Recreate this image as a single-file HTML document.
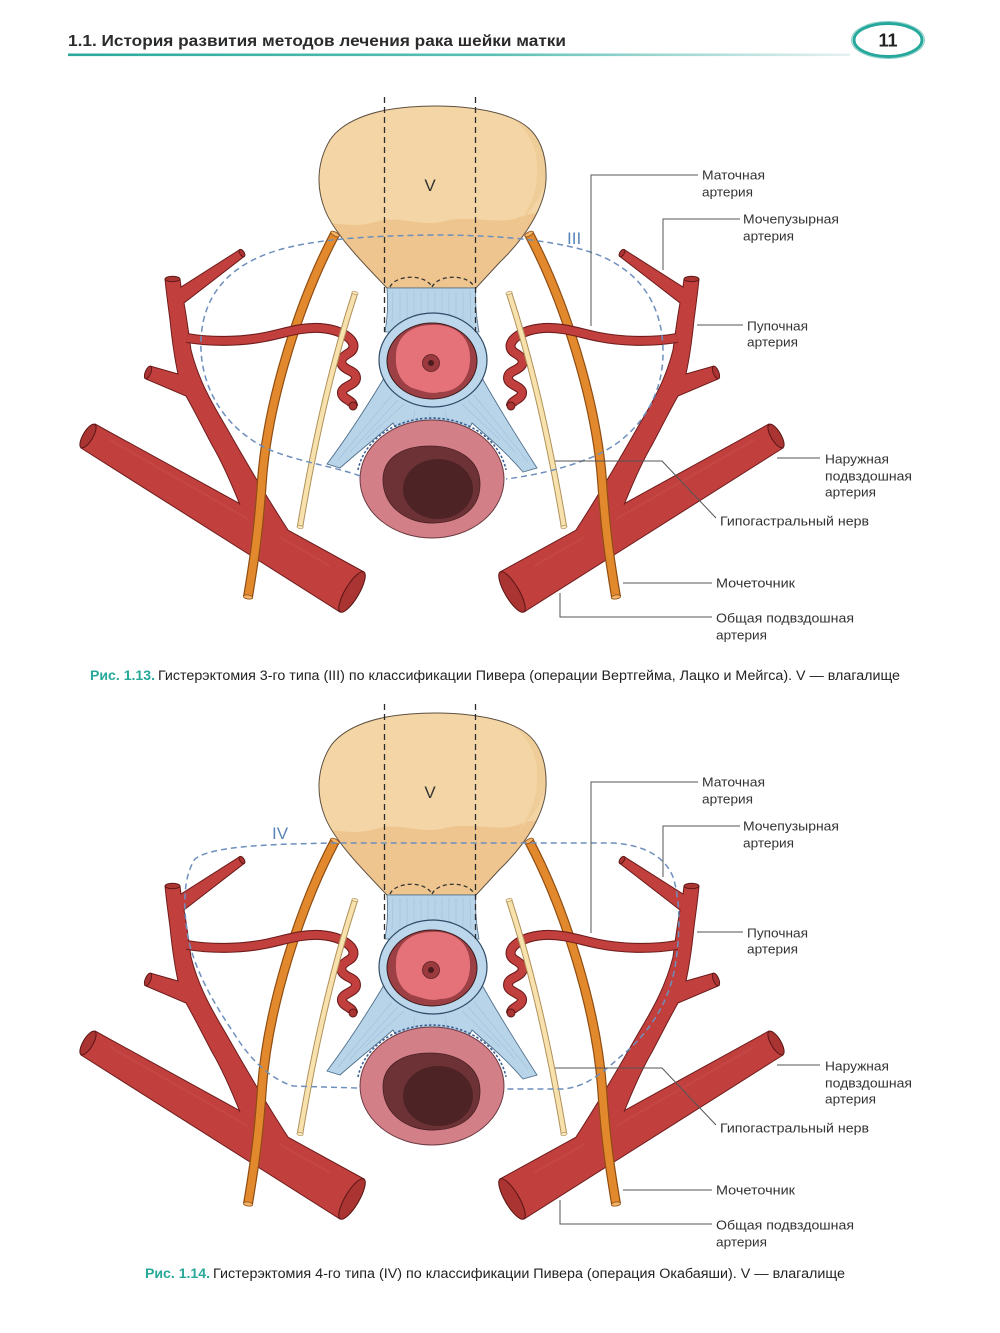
<!DOCTYPE html>
<html><head><meta charset="utf-8">
<style>
html,body{margin:0;padding:0;background:#fff}
svg{display:block}
text{font-family:"Liberation Sans","DejaVu Sans",sans-serif}
</style></head>
<body>
<svg width="1000" height="1333" viewBox="0 0 1000 1333" xmlns="http://www.w3.org/2000/svg">
<defs>
  <linearGradient id="hl" x1="68" y1="0" x2="850" y2="0" gradientUnits="userSpaceOnUse">
    <stop offset="0" stop-color="#2aa99c"/>
    <stop offset="0.55" stop-color="#5cc0b5"/>
    <stop offset="1" stop-color="#e6f1f1"/>
  </linearGradient>
  <clipPath id="tc">
    <path d="M387,288 C365,265 335,235 325,210 C315,185 318,160 330,140 C342,122 370,110 410,107 C450,104 495,108 520,122 C540,133 547,155 546,180 C545,205 528,235 500,262 L476,288 Z"/>
  </clipPath>

  <g id="ctr">
    <path d="M387,288 C365,265 335,235 325,210 C315,185 318,160 330,140 C342,122 370,110 410,107 C450,104 495,108 520,122 C540,133 547,155 546,180 C545,205 528,235 500,262 L476,288 Z" fill="#f4d6a6"/>
    <g clip-path="url(#tc)">
      <path d="M300,226 C330,218 350,230 375,222 C400,214 420,228 445,221 C470,214 500,226 520,217 C535,211 548,214 560,211 L560,300 L300,300 Z" fill="#eec58e"/>
      <path d="M512,118 C535,135 540,160 536,185 C532,205 522,220 515,228 C530,212 545,195 547,172 C548,150 535,128 512,118 Z" fill="#efcd99"/>
    </g>
    <path d="M387,288 C365,265 335,235 325,210 C315,185 318,160 330,140 C342,122 370,110 410,107 C450,104 495,108 520,122 C540,133 547,155 546,180 C545,205 528,235 500,262 L476,288 Z" fill="none" stroke="#5e5040" stroke-width="1"/>

    <path d="M387,288 L476,288 C475,300 476,315 479,332 L385,332 C388,315 388,300 387,288 Z" fill="#b8d4e9" stroke="#4f6f8c" stroke-width="0.8"/>
    <g stroke="#9fc0db" stroke-width="0.6">
      <line x1="393" y1="291" x2="392" y2="322"/><line x1="400" y1="291" x2="400" y2="320"/>
      <line x1="407" y1="291" x2="407" y2="318"/><line x1="414" y1="291" x2="414" y2="316"/>
      <line x1="421" y1="291" x2="421" y2="315"/><line x1="428" y1="291" x2="428" y2="314"/>
      <line x1="435" y1="291" x2="435" y2="314"/><line x1="442" y1="291" x2="442" y2="315"/>
      <line x1="449" y1="291" x2="449" y2="316"/><line x1="456" y1="291" x2="456" y2="318"/>
      <line x1="463" y1="291" x2="463" y2="320"/><line x1="470" y1="291" x2="471" y2="322"/>
    </g>
    <path d="M384,378 C366,408 345,440 327,464 L340,468 C358,452 376,438 393,423 C396,429 400,430 404,428 L462,428 C466,430 470,429 472,423 C489,438 506,452 523,472 L537,468 C519,440 500,410 482,378 Z" fill="#b8d4e9" stroke="#4f6f8c" stroke-width="0.9"/>
    <g stroke="#9fc0db" stroke-width="0.6" fill="none">
      <path d="M392,395 L338,460"/><path d="M398,400 L350,452"/><path d="M404,404 L365,440"/>
      <path d="M474,395 L528,462"/><path d="M468,400 L515,452"/><path d="M462,404 L500,440"/>
      <path d="M415,410 L412,426"/><path d="M430,412 L430,426"/><path d="M445,410 L448,426"/>
    </g>
    <ellipse cx="433" cy="360" rx="54" ry="47" fill="#bcd7eb" stroke="#2f4a66" stroke-width="1.2"/>
    <ellipse cx="432" cy="361" rx="45" ry="38" fill="#9c4045" stroke="#3a1a1c" stroke-width="1"/>
    <path d="M396,356 C396,336 412,325 432,325 C452,324 469,334 470,356 C471,378 458,392 440,392 C430,395 420,390 412,388 C400,382 395,370 396,356 Z" fill="#e57179"/>
    <circle cx="431" cy="363" r="8.5" fill="#9a3a3f" stroke="#5a2024" stroke-width="0.8"/>
    <circle cx="431" cy="363" r="3" fill="#4a1a1c"/>
    <ellipse cx="432" cy="479" rx="72" ry="59" fill="#d27f88" stroke="#6b3a40" stroke-width="1"/>
    <path d="M383,478 C384,458 402,446 430,446 C458,446 480,460 480,484 C480,508 462,522 435,523 C405,524 382,505 383,478 Z" fill="#6d3236" stroke="#4a2023" stroke-width="0.8"/>
    <ellipse cx="438" cy="489" rx="35" ry="30" fill="#4e2326"/>
    <path d="M358,470 A75,62 0 0 1 506,470" fill="none" stroke="#3f5f94" stroke-width="1.6" stroke-dasharray="2.5 2"/>
    <path d="M390,287 C395,275 425,273 432,287 M432,287 C439,273 470,275 474,287" fill="none" stroke="#333" stroke-width="1.3" stroke-dasharray="4 3"/>
    <path d="M384.5,97 V332 M475.5,97 V332" stroke="#2c2c2c" stroke-width="1.3" stroke-dasharray="6 4" fill="none"/>
  </g>

  <g id="side">
    <path d="M95,424 L364,572 L340,612 L81,448 Z" fill="#c1403e" stroke="#6e1c1c" stroke-width="1"/>
    <path d="M110,440 L330,566" stroke="#cd5a55" stroke-width="2" opacity="0.3"/>
    <ellipse cx="88" cy="436" rx="5" ry="13.5" transform="rotate(30.6 88 436)" fill="#a93431" stroke="#5a1515" stroke-width="1"/>
    <ellipse cx="352" cy="592" rx="7" ry="23.2" transform="rotate(30.6 352 592)" fill="#a93431" stroke="#5a1515" stroke-width="1"/>
    <path d="M240,505 C232,485 222,462 212,445 C203,428 194,410 186,396 L146,379 L150,366 L178,374 C175,360 172,340 170,320 C168,305 166,290 165,279 L180,279 L181,287 L239.7,249.7 L244.3,256.3 L184,303 C187,320 189,335 191,350 C198,378 210,400 225,425 C242,455 262,490 288,530 L275,540 L248,520 Z" fill="#c1403e"/>
    <path d="M240,505 C232,485 222,462 212,445 C203,428 194,410 186,396 L146,379 M150,366 L178,374 C175,360 172,340 170,320 C168,305 166,290 165,279 M180,279 L181,287 L239.7,249.7 M244.3,256.3 L184,303 C187,320 189,335 191,350 C198,378 210,400 225,425 C242,455 262,490 288,530" fill="none" stroke="#6e1c1c" stroke-width="1"/>
    <ellipse cx="172.5" cy="279" rx="7.5" ry="2.8" fill="#a93431" stroke="#5a1515" stroke-width="0.9"/>
    <ellipse cx="242" cy="253" rx="2.2" ry="4.2" transform="rotate(-34.3 242 253)" fill="#a93431" stroke="#5a1515" stroke-width="0.9"/>
    <ellipse cx="148" cy="372.5" rx="2.8" ry="6.8" transform="rotate(22 148 372.5)" fill="#a93431" stroke="#5a1515" stroke-width="0.9"/>
    <path d="M335,234 C300,300 268,400 262,480 C258,540 252,572 248,597" fill="none" stroke="#8f4d12" stroke-width="10"/>
    <path d="M335,234 C300,300 268,400 262,480 C258,540 252,572 248,597" fill="none" stroke="#e2892e" stroke-width="7.6"/>
    <ellipse cx="335" cy="234" rx="2" ry="4.8" transform="rotate(118 335 234)" fill="#f3b368" stroke="#8f4d12" stroke-width="0.8"/>
    <ellipse cx="248" cy="597" rx="2" ry="4.8" transform="rotate(99 248 597)" fill="#f3b368" stroke="#8f4d12" stroke-width="0.8"/>
    <path d="M187,338 C210,342 240,342 265,337 C285,333 300,327 320,328 C335,329 346,334 351,340 C355,345 354,350 349,353 C342,357 339,361 343,366 C347,371 356,371 356,378 C356,385 343,386 342,392 C341,399 353,400 353,406" fill="none" stroke="#6e1c1c" stroke-width="10" stroke-linejoin="round"/>
    <path d="M187,338 C210,342 240,342 265,337 C285,333 300,327 320,328 C335,329 346,334 351,340 C355,345 354,350 349,353 C342,357 339,361 343,366 C347,371 356,371 356,378 C356,385 343,386 342,392 C341,399 353,400 353,406" fill="none" stroke="#c1403e" stroke-width="7.8" stroke-linejoin="round"/>
    <circle cx="353" cy="406" r="4" fill="#a93431" stroke="#5a1515" stroke-width="0.9"/>
    <path d="M355,293 C338,345 318,420 300,527" fill="none" stroke="#b0905a" stroke-width="6.4"/>
    <path d="M355,293 C338,345 318,420 300,527" fill="none" stroke="#f7e2ae" stroke-width="4.4"/>
    <ellipse cx="355" cy="293" rx="1.5" ry="3.2" transform="rotate(108 355 293)" fill="#fbeac0" stroke="#b0905a" stroke-width="0.7"/>
    <ellipse cx="300" cy="527" rx="1.5" ry="3.2" transform="rotate(100 300 527)" fill="#fbeac0" stroke="#b0905a" stroke-width="0.7"/>
  </g>

  <g id="fig">
    <use href="#ctr"/>
    <use href="#side"/>
    <use href="#side" transform="matrix(-1 0 0 1 864 0)"/>
  </g>
</defs>

<rect width="1000" height="1333" fill="#fff"/>

<text x="68" y="46" font-size="16" font-weight="bold" fill="#2b2b2b" textLength="498" lengthAdjust="spacingAndGlyphs">1.1. История развития методов лечения рака шейки матки</text>
<rect x="68" y="53.5" width="782" height="2.6" fill="url(#hl)"/>
<ellipse cx="888" cy="40" rx="34" ry="16.5" fill="none" stroke="#25a89b" stroke-width="3"/>
<ellipse cx="888" cy="40" rx="36.5" ry="18.5" fill="none" stroke="#25a89b" stroke-width="1" opacity="0.55"/>
<text x="888" y="46.5" font-size="18" font-weight="bold" fill="#222" text-anchor="middle">11</text>

<use href="#fig"/>
<path d="M360,476 C340,468 300,462 270,450 C230,432 203,395 201,350 C199,300 225,262 290,247 C320,240 360,236 432,235 C500,235 545,240 580,249 C630,262 662,295 663,350 C664,400 635,440 590,458 C560,470 530,476 506,479" fill="none" stroke="#6d8fbd" stroke-width="1.5" stroke-dasharray="6 4"/>
<text x="567" y="244" font-size="17" fill="#5a85b8">III</text>
<text x="430" y="191" font-size="17" fill="#333" text-anchor="middle">V</text>

<g fill="none" stroke="#555" stroke-width="1">
  <path d="M698,175 H591 V326"/>
  <path d="M740,219 H663 V270"/>
  <path d="M743,325 H697"/>
  <path d="M820,458 H777"/>
  <path d="M555,461 H662 L716,518"/>
  <path d="M623,583 H712"/>
  <path d="M560,593 V617 H712"/>
</g>
<g font-size="13" fill="#333">
  <text x="702" y="179.5" textLength="63" lengthAdjust="spacingAndGlyphs">Маточная</text>
  <text x="702" y="196.5" textLength="51" lengthAdjust="spacingAndGlyphs">артерия</text>
  <text x="743" y="223.5" textLength="96" lengthAdjust="spacingAndGlyphs">Мочепузырная</text>
  <text x="743" y="240.5" textLength="51" lengthAdjust="spacingAndGlyphs">артерия</text>
  <text x="747" y="330.5" textLength="61" lengthAdjust="spacingAndGlyphs">Пупочная</text>
  <text x="747" y="346.5" textLength="51" lengthAdjust="spacingAndGlyphs">артерия</text>
  <text x="825" y="463.5" textLength="64" lengthAdjust="spacingAndGlyphs">Наружная</text>
  <text x="825" y="480.5" textLength="87" lengthAdjust="spacingAndGlyphs">подвздошная</text>
  <text x="825" y="496.5" textLength="51" lengthAdjust="spacingAndGlyphs">артерия</text>
  <text x="720" y="525.5" textLength="149" lengthAdjust="spacingAndGlyphs">Гипогастральный нерв</text>
  <text x="716" y="587.5" textLength="79" lengthAdjust="spacingAndGlyphs">Мочеточник</text>
  <text x="716" y="622.5" textLength="138" lengthAdjust="spacingAndGlyphs">Общая подвздошная</text>
  <text x="716" y="639.5" textLength="51" lengthAdjust="spacingAndGlyphs">артерия</text>
</g>

<text x="90" y="680" font-size="13.5" font-weight="bold" fill="#27a899" textLength="65" lengthAdjust="spacingAndGlyphs">Рис. 1.13.</text>
<text x="158" y="680" font-size="13.5" fill="#222" textLength="742" lengthAdjust="spacingAndGlyphs">Гистерэктомия 3-го типа (III) по классификации Пивера (операции Вертгейма, Лацко и Мейгса). V — влагалище</text>

<g transform="translate(0,607)">
  <use href="#fig"/>
  <path d="M357,481 L293,479 C270,472 250,452 235,428 C215,398 195,365 188,330 C183,300 183,270 195,252 C210,240 260,237 338,236 L613,236 C645,238 665,250 673,270 C681,295 680,330 675,360 C668,400 645,430 620,450 C600,468 585,480 563,482 L507,482" fill="none" stroke="#6d8fbd" stroke-width="1.5" stroke-dasharray="6 4"/>
  <text x="272" y="232" font-size="17" fill="#5a85b8">IV</text>
  <text x="430" y="191" font-size="17" fill="#333" text-anchor="middle">V</text>
  <g fill="none" stroke="#555" stroke-width="1">
    <path d="M698,175 H591 V326"/>
    <path d="M740,219 H663 V270"/>
    <path d="M743,325 H697"/>
    <path d="M820,458 H777"/>
    <path d="M555,461 H662 L716,518"/>
    <path d="M623,583 H712"/>
    <path d="M560,593 V617 H712"/>
  </g>
  <g font-size="13" fill="#333">
    <text x="702" y="179.5" textLength="63" lengthAdjust="spacingAndGlyphs">Маточная</text>
    <text x="702" y="196.5" textLength="51" lengthAdjust="spacingAndGlyphs">артерия</text>
    <text x="743" y="223.5" textLength="96" lengthAdjust="spacingAndGlyphs">Мочепузырная</text>
    <text x="743" y="240.5" textLength="51" lengthAdjust="spacingAndGlyphs">артерия</text>
    <text x="747" y="330.5" textLength="61" lengthAdjust="spacingAndGlyphs">Пупочная</text>
    <text x="747" y="346.5" textLength="51" lengthAdjust="spacingAndGlyphs">артерия</text>
    <text x="825" y="463.5" textLength="64" lengthAdjust="spacingAndGlyphs">Наружная</text>
    <text x="825" y="480.5" textLength="87" lengthAdjust="spacingAndGlyphs">подвздошная</text>
    <text x="825" y="496.5" textLength="51" lengthAdjust="spacingAndGlyphs">артерия</text>
    <text x="720" y="525.5" textLength="149" lengthAdjust="spacingAndGlyphs">Гипогастральный нерв</text>
    <text x="716" y="587.5" textLength="79" lengthAdjust="spacingAndGlyphs">Мочеточник</text>
    <text x="716" y="622.5" textLength="138" lengthAdjust="spacingAndGlyphs">Общая подвздошная</text>
    <text x="716" y="639.5" textLength="51" lengthAdjust="spacingAndGlyphs">артерия</text>
  </g>
</g>

<text x="145" y="1278" font-size="13.5" font-weight="bold" fill="#27a899" textLength="65" lengthAdjust="spacingAndGlyphs">Рис. 1.14.</text>
<text x="213" y="1278" font-size="13.5" fill="#222" textLength="632" lengthAdjust="spacingAndGlyphs">Гистерэктомия 4-го типа (IV) по классификации Пивера (операция Окабаяши). V — влагалище</text>
</svg>
</body></html>
